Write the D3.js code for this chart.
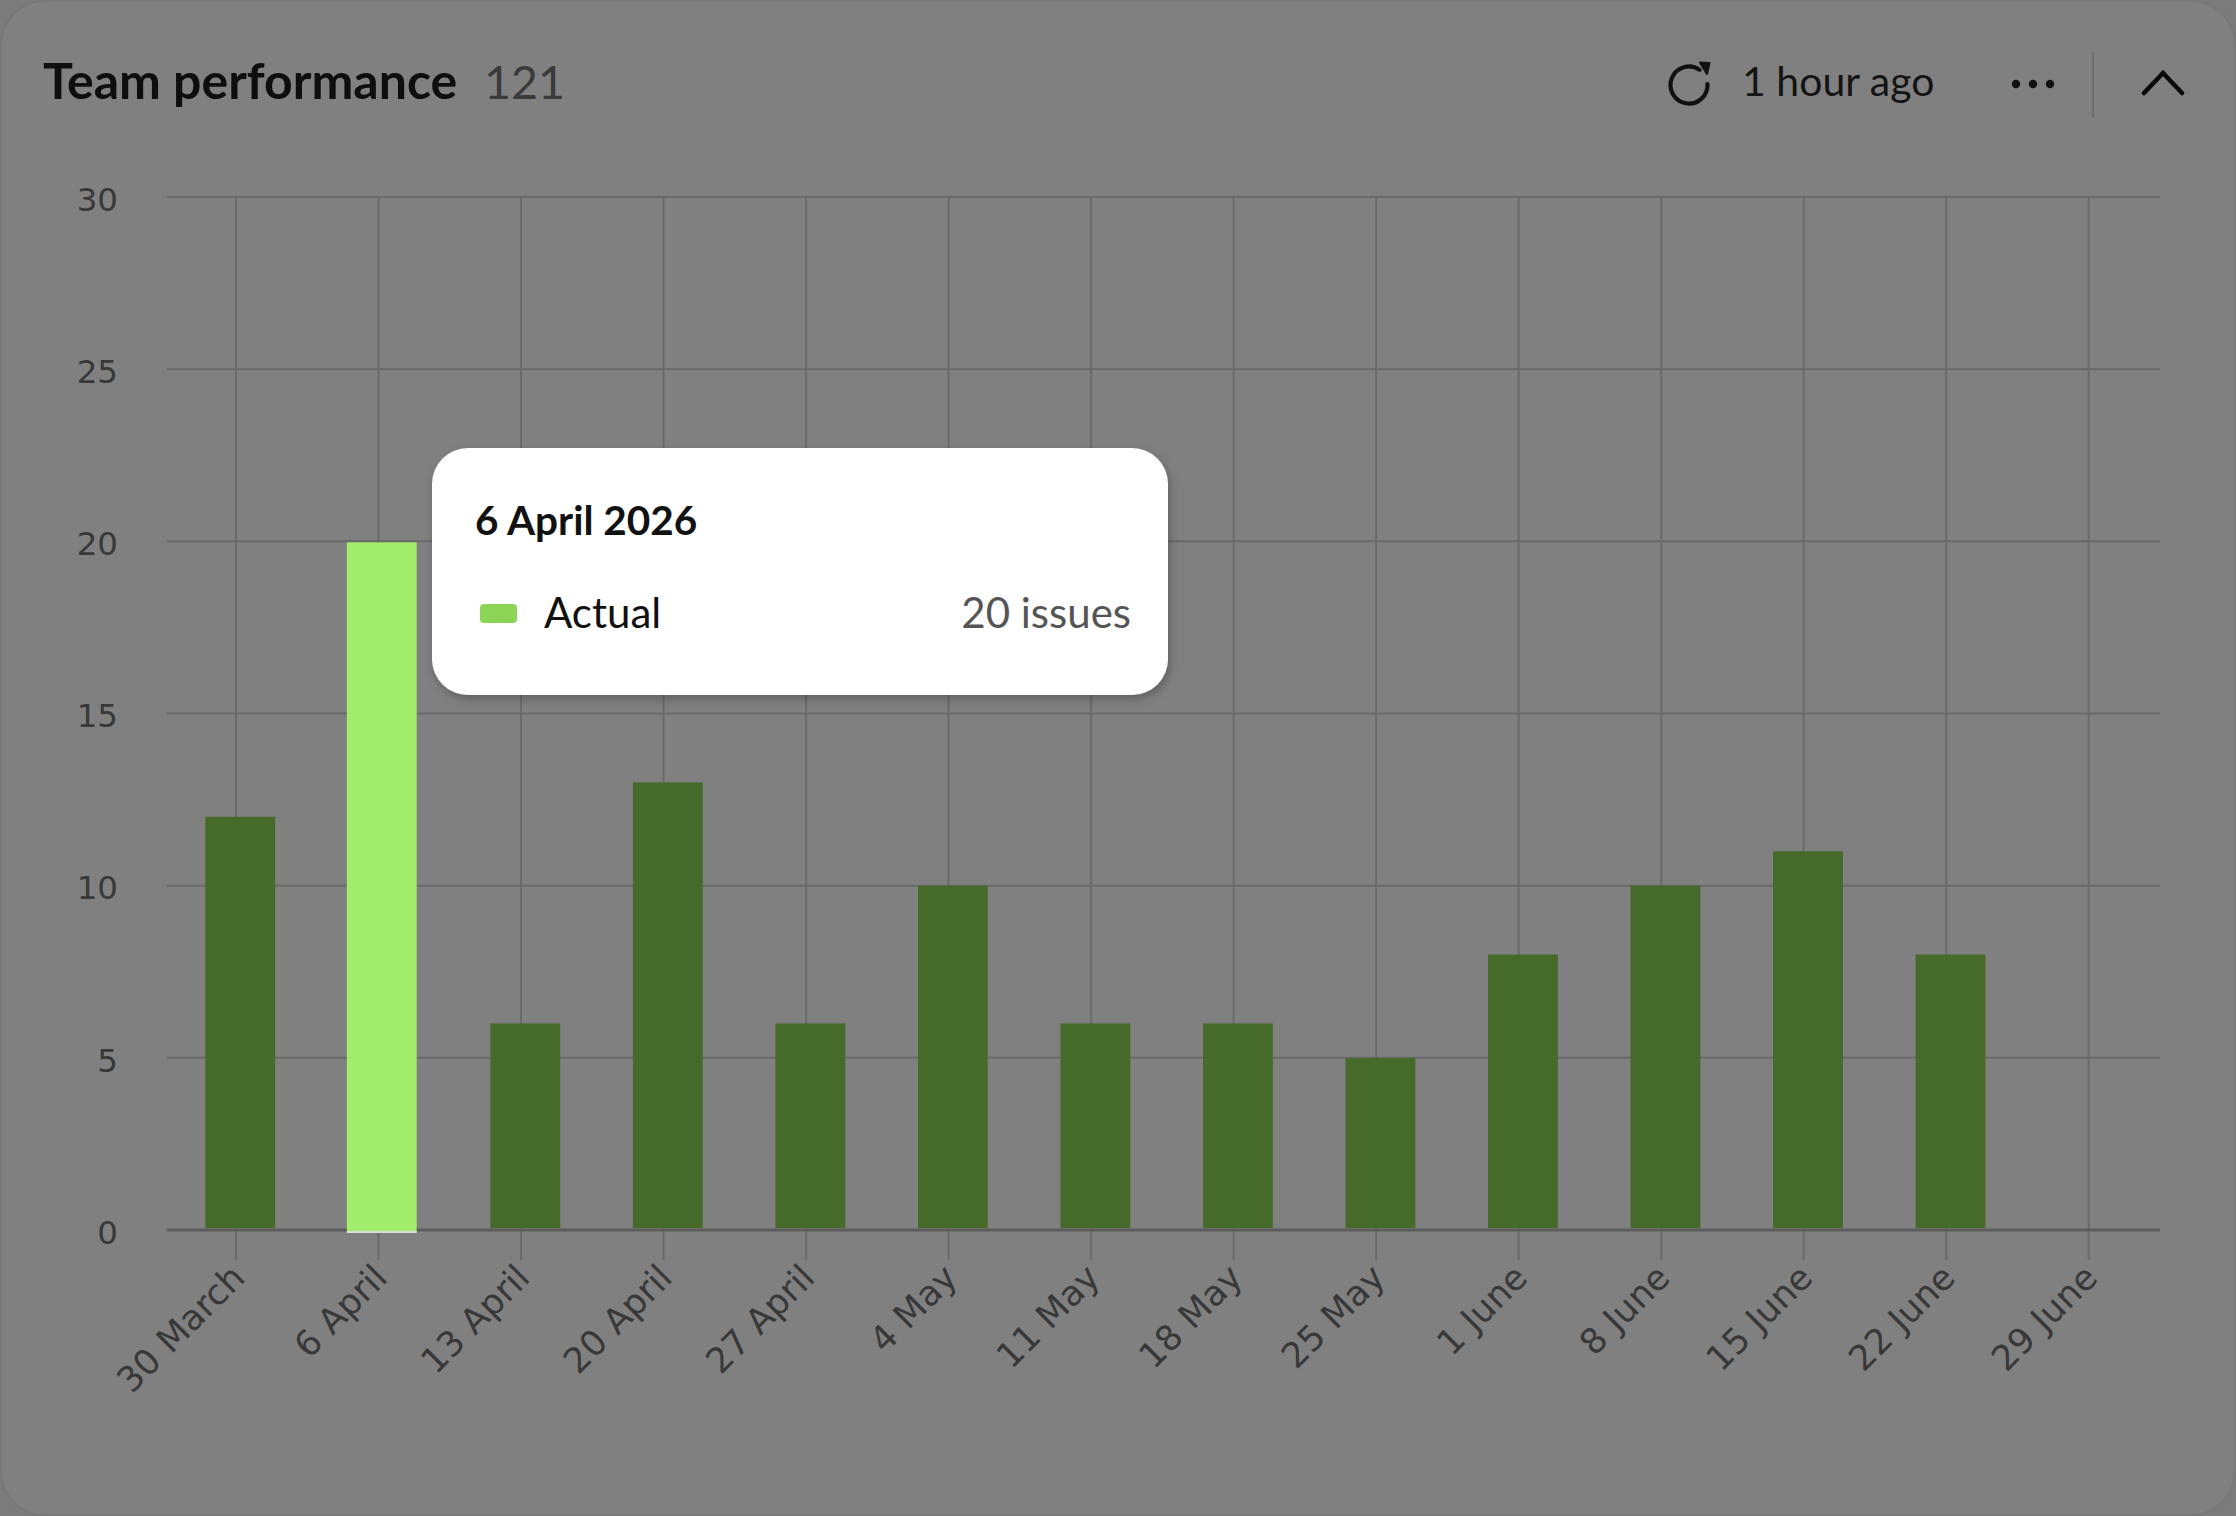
<!DOCTYPE html>
<html>
<head>
<meta charset="utf-8">
<script src="https://cdn.jsdelivr.net/npm/d3@7"></script>
<style>
  html, body { margin: 0; padding: 0; background: #7b7b7b; overflow: hidden; }
  svg { display: block; }
</style>
</head>
<body>
<svg id="chart" width="2236" height="1516"></svg>
<script>
// ---- Data ----
const categories = ["30 March", "6 April", "13 April", "20 April", "27 April", "4 May", "11 May",
  "18 May", "25 May", "1 June", "8 June", "15 June", "22 June", "29 June"];
const values = [12, 20, 6, 13, 6, 10, 6, 6, 5, 8, 10, 11, 8, 0];
const yTicks = [0, 5, 10, 15, 20, 25, 30];
const title = "Team performance";
const totalLabel = "121";
const updatedLabel = "1 hour ago";
const highlightIndex = 1;
const tooltipTitle = "6 April 2026";
const tooltipSeries = "Actual";
const tooltipValue = "20 issues";

// ---- Layout ----
const W = 2236, H = 1516;
const plot = { left: 167, right: 2160, top: 197, bottom: 1230 };
const svg = d3.select("#chart");

const defs = svg.append("defs");
const f = defs.append("filter").attr("id", "shadow").attr("x", "-10%").attr("y", "-10%").attr("width", "120%").attr("height", "130%");
f.append("feDropShadow").attr("dx", 2).attr("dy", 4).attr("stdDeviation", 5).attr("flood-color", "#000").attr("flood-opacity", 0.25);

// card
svg.append("rect").attr("x", 1).attr("y", 1).attr("width", W - 2).attr("height", H - 2)
  .attr("rx", 44).attr("fill", "#808080").attr("stroke", "#787878").attr("stroke-width", 2);

// scales
const x = d3.scaleLinear().domain([-0.484, 13.5]).range([plot.left, plot.right]);
const y = d3.scaleLinear().domain([0, 30]).range([plot.bottom, plot.top]);
const barHalf = 0.245, barShift = 0.03;

// header
const header = svg.append("g");
header.append("text").attr("x", 43).attr("y", 99)
  .attr("font-family", "Lato, 'Noto Sans', sans-serif").attr("font-weight", 700)
  .attr("font-size", 50).attr("fill", "#0e0e0e").text(title);
header.append("text").attr("x", 484).attr("y", 99)
  .attr("font-family", "Lato, 'Noto Sans', sans-serif").attr("font-weight", 400)
  .attr("font-size", 46.5).attr("fill", "#3a3a3a").text(totalLabel);

// refresh icon
const ic = header.append("g").attr("transform", "translate(1689,85)");
const rr = 18.5;
const p = d3.path();
p.arc(0, 0, rr, -55 * Math.PI / 180, -3 * Math.PI / 180, true);
ic.append("path").attr("d", p.toString()).attr("fill", "none").attr("stroke", "#111")
  .attr("stroke-width", 4.2).attr("stroke-linecap", "round");
ic.append("path").attr("d", "M11,-22.5 L20.5,-22 L18,-11 Z").attr("fill", "#111")
  .attr("stroke", "#111").attr("stroke-width", 2).attr("stroke-linejoin", "round");

header.append("text").attr("x", 1742).attr("y", 96)
  .attr("font-family", "Lato, 'Noto Sans', sans-serif").attr("font-size", 41).attr("fill", "#141414").text(updatedLabel);

// dots
header.selectAll("circle.dot").data([0, 1, 2]).join("circle").attr("class", "dot")
  .attr("cx", d => 2016 + d * 17).attr("cy", 84).attr("r", 4.2).attr("fill", "#111");
// separator
header.append("line").attr("x1", 2093).attr("x2", 2093).attr("y1", 52).attr("y2", 117)
  .attr("stroke", "#6c6c6c").attr("stroke-width", 2);
// chevron
header.append("path").attr("d", "M2144,93 L2163,73 L2182,93").attr("fill", "none")
  .attr("stroke", "#0a0a0a").attr("stroke-width", 4.5).attr("stroke-linecap", "round").attr("stroke-linejoin", "miter");

// grid
const grid = svg.append("g");
grid.selectAll("line.h").data(yTicks.filter(d => d !== 0)).join("line").attr("class", "h")
  .attr("x1", plot.left).attr("x2", plot.right).attr("y1", d => y(d)).attr("y2", d => y(d))
  .attr("stroke", "#6a6a6a").attr("stroke-width", 2);
grid.selectAll("line.v").data(categories).join("line").attr("class", "v")
  .attr("x1", (d, i) => x(i)).attr("x2", (d, i) => x(i)).attr("y1", plot.top).attr("y2", plot.bottom + 30)
  .attr("stroke", "#6a6a6a").attr("stroke-width", 2);

// y labels
svg.append("g").selectAll("text").data(yTicks).join("text")
  .attr("x", 118).attr("y", d => y(d) + 2).attr("dy", "0.36em").attr("text-anchor", "end")
  .attr("font-family", "'DejaVu Sans', sans-serif").attr("font-size", 32.5).attr("fill", "#383838")
  .text(d => d);

// bars
const bars = svg.append("g");
bars.selectAll("rect").data(values.map((v, i) => ({ v, i }))).join("rect")
  .filter(d => d.i !== highlightIndex)
  .attr("x", d => x(d.i + barShift - barHalf))
  .attr("width", d => x(d.i + barShift + barHalf) - x(d.i + barShift - barHalf))
  .attr("y", d => y(d.v))
  .attr("height", d => y(0) - y(d.v) - 2)
  .attr("fill", "#466a2a");

// axis line
svg.append("line").attr("x1", plot.left).attr("x2", plot.right).attr("y1", y(0)).attr("y2", y(0))
  .attr("stroke", "#5c5c5c").attr("stroke-width", 3);

// highlighted bar
const hv = values[highlightIndex];
svg.append("rect")
  .attr("x", x(highlightIndex + barShift - barHalf) - 1)
  .attr("width", x(highlightIndex + barShift + barHalf) - x(highlightIndex + barShift - barHalf))
  .attr("y", y(hv) + 1)
  .attr("height", y(0) - y(hv) + 1)
  .attr("fill", "#a2ed6c");
svg.append("line")
  .attr("x1", x(highlightIndex + barShift - barHalf) - 1)
  .attr("x2", x(highlightIndex + barShift + barHalf) - 1)
  .attr("y1", y(0) + 2).attr("y2", y(0) + 2)
  .attr("stroke", "#dcdcdc").attr("stroke-width", 2);

// x labels
svg.append("g").selectAll("text").data(categories).join("text")
  .attr("transform", (d, i) => `translate(${x(i) + 2},${plot.bottom + 41}) rotate(-45)`)
  .attr("text-anchor", "end").attr("dy", "0.35em")
  .attr("font-family", "'DejaVu Sans', sans-serif").attr("font-size", 35).attr("fill", "#383838")
  .text(d => d);

// tooltip
const tt = svg.append("g");
tt.append("rect").attr("x", 432).attr("y", 448).attr("width", 736).attr("height", 247).attr("rx", 36)
  .attr("fill", "#ffffff").attr("filter", "url(#shadow)");
tt.append("text").attr("x", 475).attr("y", 535)
  .attr("font-family", "Lato, 'Noto Sans', sans-serif").attr("font-weight", 700).attr("font-size", 40.5)
  .attr("fill", "#111").text(tooltipTitle);
tt.append("rect").attr("x", 480).attr("y", 604).attr("width", 37).attr("height", 19).attr("rx", 4)
  .attr("fill", "#8bd455");
tt.append("text").attr("x", 544).attr("y", 628)
  .attr("font-family", "Lato, 'Noto Sans', sans-serif").attr("font-size", 42).attr("fill", "#111").text(tooltipSeries);
tt.append("text").attr("x", 1131).attr("y", 628).attr("text-anchor", "end")
  .attr("font-family", "Lato, 'Noto Sans', sans-serif").attr("font-size", 42).attr("fill", "#555").text(tooltipValue);
</script>
</body>
</html>
